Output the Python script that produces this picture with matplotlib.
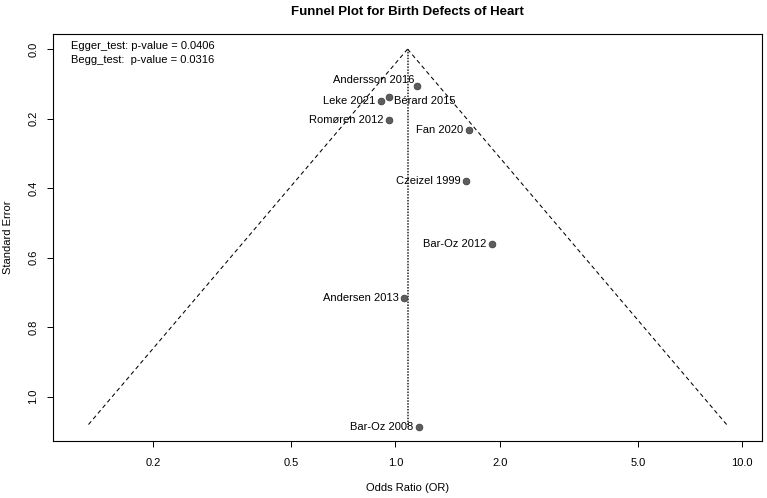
import numpy as np
import matplotlib
matplotlib.use("Agg")
import matplotlib.pyplot as plt

# study data
studies = ["Andersson 2016", "Bérard 2015", "Leke 2021", "Romøren 2012", "Fan 2020",
           "Czeizel 1999", "Bar-Oz 2012", "Andersen 2013", "Bar-Oz 2008"]
odds_ratio = [1.151, 0.956, 0.906, 0.960, 1.625, 1.594, 1.901, 1.058, 1.169]
std_error = [0.106, 0.138, 0.150, 0.203, 0.232, 0.381, 0.562, 0.716, 1.087]
pooled_or = 1.084

x_ticks = [0.2, 0.5, 1.0, 2.0, 5.0, 10.0]
x_tick_labels = ["0.2", "0.5", "1.0", "2.0", "5.0", "10.0"]
y_ticks = [0.0, 0.2, 0.4, 0.6, 0.8, 1.0]
egger_p = 0.0406
begg_p = 0.0316

plt.rcParams['font.family'] = ['Liberation Sans', 'DejaVu Sans']

fig = plt.figure(figsize=(7.67, 4.98), dpi=100)
ax = fig.add_axes([0.0691, 0.1145, 0.9244, 0.8172])

# funnel (pseudo 95% limits) and pooled estimate line
se_max = max(std_error)
se_line = np.array([0.0, se_max])
ax.plot(np.exp(np.log(pooled_or) - 1.96 * se_line), se_line, color='black', lw=0.75,
        linestyle=(0, (4, 3)))
ax.plot(np.exp(np.log(pooled_or) + 1.96 * se_line), se_line, color='black', lw=0.75,
        linestyle=(0, (4, 3)))
ax.plot([pooled_or, pooled_or], se_line, color='#222222', lw=1.1, linestyle=(0, (1.0, 0.9)))

ax.plot(odds_ratio, std_error, 'o', markersize=4.8, markerfacecolor='#5e5e5e',
        markeredgecolor='#404040', markeredgewidth=0.6, linestyle='none', zorder=3)

# label offsets in pixels (dx, dy); most sit to the left of the point
px = 0.72
offsets = {"Andersson 2016": (-2.5, 6.0, 'right'), "Bérard 2015": (5.5, -4.0, 'left')}
for name, x, y in zip(studies, odds_ratio, std_error):
    dx, dy, ha = offsets.get(name, (-5.5, 0.0, 'right'))
    ax.annotate(name, (x, y), xytext=(dx * px, dy * px), textcoords='offset points',
                ha=ha, va='center', fontsize=8, color='black')

ax.set_xscale('log')
ax.set_xlim(0.103, 11.4)
ax.set_ylim(1.128, -0.0434)
ax.set_xticks(x_ticks)
ax.set_xticklabels(x_tick_labels)
ax.xaxis.set_minor_locator(matplotlib.ticker.NullLocator())
ax.set_yticks(y_ticks)
ax.set_yticklabels([f"{v:.1f}" for v in y_ticks], rotation=90, va='center')
ax.tick_params(axis='both', labelsize=8, length=4.5, width=0.7, direction='out')
ax.tick_params(axis='x', pad=7.5)
ax.tick_params(axis='y', pad=6)
for s in ax.spines.values():
    s.set_linewidth(0.8)

ax.set_xlabel("Odds Ratio (OR)", fontsize=8, labelpad=11)
ax.set_ylabel("Standard Error", fontsize=8, labelpad=11)

ax.text(0.025, 0.971, f"Egger_test: p-value = {egger_p}", transform=ax.transAxes,
        ha='left', va='center', fontsize=8)
ax.text(0.025, 0.936, f"Begg_test:  p-value = {begg_p}", transform=ax.transAxes,
        ha='left', va='center', fontsize=8)

fig.text(0.531, 0.975, "Funnel Plot for Birth Defects of Heart", ha='center', va='center',
         fontsize=9.5, fontweight='bold')

fig.savefig("out.png", dpi=100)
